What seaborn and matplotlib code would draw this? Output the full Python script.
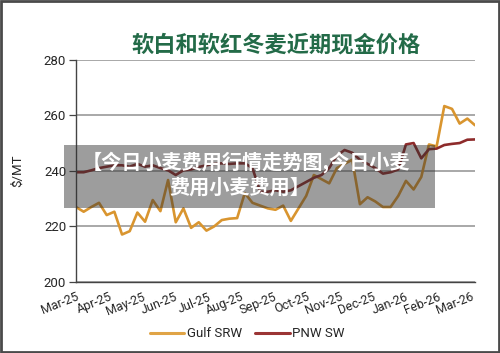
import numpy as np
import pandas as pd
import matplotlib
matplotlib.use("Agg")
import matplotlib.pyplot as plt
import seaborn as sns
from matplotlib.patches import Rectangle
from matplotlib.lines import Line2D

# weekly cash prices, $/MT (Mar-25 .. Mar-26)
gulf_srw = [227.0, 225.3, 227.0, 228.5, 224.1, 225.3, 217.1, 218.3, 225.0, 221.7,
            229.5, 225.5, 236.7, 221.5, 226.5, 219.5, 221.5, 218.5, 220.0, 222.3,
            222.8, 223.0, 232.0, 228.5, 227.5, 226.5, 226.0, 227.5, 222.0, 226.5,
            231.0, 238.5, 237.0, 235.5, 241.0, 242.5, 244.0, 228.0, 230.5, 229.0,
            227.0, 227.0, 231.0, 236.4, 233.3, 237.8, 249.5, 248.8, 263.3, 262.3,
            257.0, 258.8, 256.4]
pnw_sw = [239.5, 239.5, 240.2, 241.0, 241.5, 242.0, 242.0, 241.5, 242.5, 241.5,
          242.0, 241.0, 240.2, 238.5, 240.2, 240.5, 241.4, 242.0, 242.5, 242.7,
          242.5, 242.7, 242.7, 241.0, 232.5, 232.5, 233.0, 232.5, 233.0, 234.5,
          236.0, 237.5, 238.5, 241.0, 245.5, 247.5, 246.5, 244.0, 242.5, 241.0,
          239.0, 239.5, 240.5, 249.5, 250.0, 244.5, 247.8, 248.0, 249.3, 249.7,
          250.0, 251.2, 251.3]
months = ["Mar-25", "Apr-25", "May-25", "Jun-25", "Jul-25", "Aug-25", "Sep-25",
          "Oct-25", "Nov-25", "Dec-25", "Jan-26", "Feb-26", "Mar-26"]

weeks = np.arange(len(gulf_srw))
df = pd.DataFrame({
    "week": np.concatenate([weeks, weeks]),
    "price": gulf_srw + pnw_sw,
    "series": ["Gulf SRW"] * len(gulf_srw) + ["PNW SW"] * len(pnw_sw),
})

sns.set_style("white")
plt.rcParams["font.family"] = ["Roboto", "Noto Sans CJK SC", "DejaVu Sans"]

fig = plt.figure(figsize=(5, 3.53), dpi=100)
ax = fig.add_axes([0.152, 0.201, 0.798, 0.630])

sns.lineplot(data=df, x="week", y="price", hue="series",
             palette={"Gulf SRW": "#d9952f", "PNW SW": "#8e2b2b"},
             linewidth=1.9, ax=ax, legend=False)

ax.set_xlim(0, 52)
ax.set_ylim(200, 280)
ax.set_yticks([200, 220, 240, 260, 280])
ax.set_xticks(np.arange(13) * 4.29)
ax.set_xticklabels(months, rotation=22, ha="right", rotation_mode="anchor")
ax.tick_params(axis="x", length=4, width=0.9, color="#444444", labelsize=9, pad=2)
ax.tick_params(axis="y", length=5, width=0.9, color="#444444", labelsize=9.5, pad=2, left=True)
ax.grid(axis="y", color="#9a9a9a", linewidth=1.2)
ax.set_axisbelow(True)
for s in ["top", "right"]:
    ax.spines[s].set_visible(False)
for s in ["left", "bottom"]:
    ax.spines[s].set_color("#444444")
    ax.spines[s].set_linewidth(1.0)
ax.set_xlabel("")
ax.set_ylabel("$/MT", fontsize=9.5, labelpad=14)

# legend
handles = [Line2D([], [], color="#e0a446", linewidth=2.2),
           Line2D([], [], color="#9b3535", linewidth=2.2)]
fig.legend(handles, ["Gulf SRW", "PNW SW"], loc="center", bbox_to_anchor=(0.495, 0.054),
           ncol=2, frameon=False, fontsize=9.5, handlelength=2.6, handletextpad=0.2,
           columnspacing=1.0)

fig.text(0.552, 0.872, "软白和软红冬麦近期现金价格", ha="center", va="center",
         fontsize=16, fontweight="bold", color="#236b48",
         family=["Noto Sans CJK SC", "DejaVu Sans"])

# grey watermark banner
fig.add_artist(Rectangle((64 / 500, 1 - 208 / 353), 371 / 500, 63 / 353,
                         transform=fig.transFigure, facecolor="#303030",
                         alpha=0.47, edgecolor="none", zorder=5))
fig.text(246 / 500, 1 - 162 / 353, "【今日小麦费用行情走势图,今日小麦", ha="center", va="center",
         fontsize=14.5, fontweight="bold", color="white", zorder=6,
         family=["Noto Sans CJK SC", "DejaVu Sans"])
fig.text(240 / 500, 1 - 187 / 353, "费用小麦费用】", ha="center", va="center",
         fontsize=14.5, fontweight="bold", color="white", zorder=6,
         family=["Noto Sans CJK SC", "DejaVu Sans"])

# outer border
fig.add_artist(Rectangle((0.002, 0.003), 0.996, 0.994, transform=fig.transFigure,
                         fill=False, edgecolor="#4a4a4a", linewidth=2, zorder=7))

fig.savefig("out.png", dpi=100)
